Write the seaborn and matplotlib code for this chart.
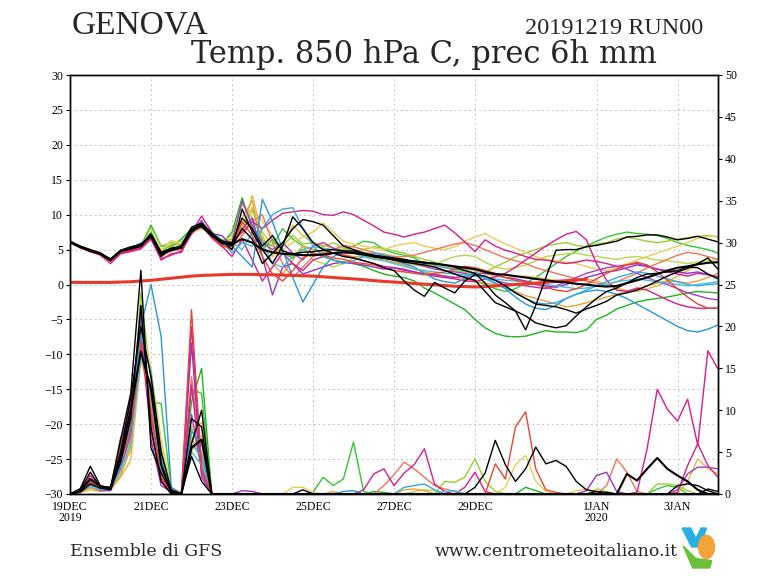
import matplotlib
matplotlib.use("Agg")
import matplotlib.pyplot as plt
from matplotlib.patches import Ellipse, Polygon
import seaborn as sns

# forecast hours, 6h steps from 19DEC2019 00Z to 04JAN2020 00Z
HOURS = list(range(0, 385, 6))

TICK_HOURS = [0, 48, 96, 144, 192, 240, 312, 360]
TICK_LABELS = ["19DEC\n2019", "21DEC", "23DEC", "25DEC", "27DEC", "29DEC", "1JAN\n2020", "3JAN"]

# 850 hPa temperature (C), one list per ensemble member
T_BLACK_A = [6.2, 5.5, 5.0, 4.5, 3.6, 4.9, 5.4, 5.7, 7.1, 4.6, 5.2, 5.4, 7.9, 8.7, 7.0, 6.2,
             6.0, 9.5, 8.0, 5.5, 7.0, 4.8, 4.4, 4.6, 4.7, 4.9, 5.0, 4.8, 4.8, 4.5, 4.2, 4.0,
             3.8, 3.6, 3.3, 3.2, 3.0, 2.8, 2.5, 2.0, 1.6, 0.2, -1.5, -2.6, -3.8, -6.5, -3.0, 1.0,
             4.9, 5.0, 5.0, 5.4, 5.6, 5.9, 6.2, 6.8, 6.9, 7.1, 7.1, 6.8, 6.4, 6.6, 6.9, 6.5, 6.1]
T_BLACK_B = [6.1, 5.3, 4.9, 4.3, 3.4, 4.8, 5.3, 5.8, 6.8, 4.2, 5.0, 5.6, 8.2, 8.8, 7.4, 6.1,
             5.5, 8.0, 6.5, 3.0, 4.5, 6.0, 8.0, 9.3, 9.0, 8.5, 7.0, 5.5, 5.0, 4.5, 4.0, 3.8,
             3.5, 3.2, 3.0, 2.8, 2.5, 2.0, 1.5, 1.0, 0.6, -1.0, -2.6, -3.2, -3.8, -4.5, -5.5, -5.9,
             -6.2, -5.9, -4.5, -3.2, -2.0, -1.0, -0.5, 0.2, 1.0, 1.5, 1.6, 1.8, 2.0, 2.5, 2.4, 1.5, 0.8]
T_BLACK_C = [6.1, 5.4, 4.8, 4.4, 3.6, 4.8, 5.1, 5.5, 7.2, 4.5, 4.9, 5.3, 7.6, 8.5, 7.1, 5.9,
             5.8, 6.5, 6.0, 5.0, 4.6, 4.4, 4.3, 4.2, 4.2, 4.3, 4.5, 4.6, 4.5, 4.3, 4.0, 3.8,
             3.6, 3.4, 3.3, 3.1, 3.0, 2.8, 2.6, 2.4, 2.2, 1.8, 1.5, 1.4, 1.2, 1.0, 0.8, 0.6,
             0.4, 0.3, 0.1, 0.0, -0.2, -0.3, -0.2, 0.2, 0.6, 1.0, 1.5, 2.0, 2.4, 2.6, 2.9, 3.1, 3.2]
T_BLACK_D = [6.0, 5.4, 4.9, 4.5, 3.5, 4.7, 5.3, 5.7, 6.9, 4.0, 5.2, 5.2, 8.0, 8.3, 6.9, 6.3,
             5.0, 10.8, 7.5, 5.0, 3.0, 5.5, 9.7, 8.0, 6.0, 5.0, 4.5, 4.0, 3.8, 3.4, 3.0, 2.4,
             2.0, 0.5, -0.8, -1.7, 0.3, -0.5, -1.2, 0.5, 1.4, 1.2, 0.6, -0.2, -1.2, -2.0, -2.8, -3.0,
             -3.2, -3.6, -4.1, -3.5, -3.0, -2.4, -1.5, -1.2, -0.8, -0.2, 0.5, 1.2, 1.8, 2.3, 3.0, 3.8, 2.2]
T_GREEN_A = [6.0, 5.3, 4.8, 4.4, 3.4, 4.7, 5.2, 5.5, 8.5, 5.5, 5.4, 6.5, 8.0, 8.4, 7.0, 5.8,
             7.5, 12.4, 8.0, 5.0, 6.5, 4.5, 3.8, 5.0, 4.5, 4.0, 3.5, 3.2, 3.0, 2.6, 2.0, 1.5,
             1.2, 1.0, 0.5, -0.5, -1.2, -2.0, -2.8, -3.6, -5.0, -6.2, -7.0, -7.4, -7.5, -7.4, -7.0, -6.6,
             -6.8, -6.8, -6.9, -6.5, -5.0, -4.4, -3.5, -3.0, -2.5, -2.2, -2.0, -1.8, -1.5, -1.2, -1.0, -1.1, -1.2]
T_GREEN_B = [6.1, 5.5, 5.0, 4.3, 3.5, 4.9, 5.1, 5.6, 7.5, 4.8, 5.6, 5.9, 7.6, 8.2, 7.3, 5.7,
             6.0, 8.5, 11.0, 6.0, 5.5, 8.0, 6.5, 5.5, 5.0, 4.6, 4.5, 5.0, 5.5, 6.2, 6.0, 5.0,
             4.5, 4.2, 3.8, 3.0, 2.5, 2.0, 1.5, 1.0, 0.5, 0.0, -0.6, -1.0, -0.6, 0.2, 1.0, 2.0,
             3.0, 4.0, 4.8, 5.5, 6.2, 6.8, 7.2, 7.5, 7.3, 7.2, 7.0, 6.6, 6.0, 5.6, 5.3, 5.0, 4.5]
T_LIME_A = [6.2, 5.4, 4.9, 4.4, 3.7, 4.8, 5.2, 5.4, 8.2, 5.5, 6.0, 5.7, 7.4, 8.0, 7.5, 6.2,
            7.0, 11.5, 9.5, 6.5, 4.5, 5.5, 7.0, 5.8, 6.0, 5.4, 6.0, 5.2, 4.8, 5.0, 5.4, 5.2,
            4.8, 4.5, 4.0, 3.6, 3.2, 2.6, 2.0, 1.8, 1.5, 1.8, 2.5, 3.2, 4.0, 4.5, 5.0, 5.5,
            5.8, 6.0, 5.6, 5.4, 5.8, 6.0, 6.5, 6.8, 6.5, 6.2, 6.0, 6.2, 6.5, 6.7, 6.9, 7.0, 6.8]
T_LIME_B = [6.0, 5.3, 4.8, 4.4, 3.5, 4.6, 5.0, 5.5, 7.3, 4.9, 5.8, 6.2, 7.2, 8.4, 7.6, 6.4,
            6.5, 8.0, 10.5, 7.5, 5.5, 4.5, 4.0, 5.5, 3.5, 3.0, 2.5, 3.0, 3.8, 4.2, 4.0, 3.5,
            3.2, 3.0, 2.8, 2.6, 2.8, 3.5, 4.0, 4.2, 4.0, 3.2, 2.5, 2.2, 2.4, 2.8, 3.4, 4.0,
            4.2, 4.4, 4.5, 4.2, 4.0, 3.8, 3.6, 3.9, 4.0, 3.8, 3.5, 3.4, 3.2, 3.0, 3.2, 3.4, 3.6]
T_YELLOW = [6.1, 5.4, 5.0, 4.5, 3.6, 4.8, 5.1, 5.4, 7.1, 4.8, 6.3, 5.8, 7.5, 8.1, 7.1, 5.9,
            6.0, 8.5, 11.0, 9.0, 7.0, 5.0, 6.0, 6.8, 7.5, 8.8, 7.5, 6.2, 5.8, 5.5, 5.2, 5.0,
            5.5, 5.8, 6.0, 5.5, 5.2, 5.0, 5.4, 6.2, 6.8, 7.3, 6.5, 5.8, 5.2, 4.6, 4.0, 3.6,
            3.4, 3.2, 3.0, 2.6, 2.2, 2.0, 2.4, 3.0, 3.5, 4.0, 4.5, 5.0, 5.5, 6.0, 6.6, 6.9, 6.9]
T_GOLD = [6.0, 5.2, 4.7, 4.3, 3.4, 4.6, 5.0, 5.3, 6.7, 4.3, 5.4, 5.5, 7.7, 8.3, 6.8, 5.6,
          5.0, 7.0, 12.8, 7.0, 4.0, 5.5, 8.5, 7.0, 6.0, 5.6, 5.2, 5.0, 4.8, 4.6, 4.5, 4.4,
          4.0, 3.6, 3.2, 2.8, 2.6, 2.5, 2.4, 2.2, 2.0, 1.5, 1.2, 1.0, 1.1, 1.2, 1.0, 0.8,
          0.6, 0.4, 0.6, 0.8, 0.5, 0.0, -0.5, -0.9, -1.0, -0.6, -0.2, 0.4, 1.2, 2.0, 2.8, 3.2, 3.1]
T_ORANGE = [6.1, 5.4, 4.8, 4.4, 3.5, 4.7, 5.1, 5.5, 6.6, 4.0, 4.8, 5.1, 7.6, 8.7, 6.9, 5.8,
            6.5, 9.5, 12.0, 5.0, 3.0, 1.5, 3.5, 5.5, 5.0, 4.8, 4.5, 4.3, 4.0, 4.0, 3.8, 3.5,
            3.2, 2.8, 2.2, 1.8, 1.5, 1.2, 1.0, 0.8, 0.5, 0.2, 0.0, -0.5, -1.0, -1.6, -2.0, -2.4,
            -2.8, -3.2, -3.0, -2.6, -2.2, -1.8, -1.4, -1.0, -0.6, -0.2, 0.2, 0.5, 0.4, 0.2, 0.5, 1.0, 1.6]
T_SALMON = [6.0, 5.3, 4.8, 4.3, 3.3, 4.5, 4.9, 5.3, 6.9, 4.2, 4.9, 5.0, 7.4, 8.5, 6.6, 5.4,
            5.5, 7.0, 9.0, 10.0, 6.0, 3.0, 1.0, 2.5, 4.0, 4.5, 5.0, 5.6, 5.4, 5.0, 4.6, 4.2,
            4.0, 4.0, 4.2, 4.6, 5.0, 5.4, 5.8, 6.0, 5.6, 5.0, 4.4, 3.8, 3.4, 3.0, 2.4, 2.0,
            1.6, 1.2, 0.8, 0.5, 0.2, 0.0, 0.4, 1.0, 1.6, 2.4, 3.0, 3.6, 4.2, 4.6, 4.4, 4.0, 3.6]
T_MAGENTA_A = [6.1, 5.4, 4.9, 4.4, 3.4, 4.6, 4.8, 5.2, 6.6, 3.5, 4.4, 4.6, 7.5, 9.8, 7.5, 5.8,
               6.0, 7.5, 9.0, 8.0, 9.2, 10.2, 10.4, 10.6, 10.5, 10.0, 9.9, 10.4, 10.0, 9.2, 8.4, 7.5,
               7.2, 6.8, 7.2, 7.5, 8.0, 8.5, 7.4, 6.1, 4.7, 6.4, 5.5, 4.9, 4.5, 4.0, 3.6, 3.5,
               3.2, 3.0, 3.2, 3.5, 3.3, 3.0, 2.6, 2.8, 3.0, 2.6, 2.2, 1.8, 1.5, 1.2, 1.6, 1.4, 1.1]
T_MAGENTA_B = [6.0, 5.3, 4.7, 4.2, 3.0, 4.4, 4.7, 5.1, 6.5, 3.7, 4.2, 4.8, 7.2, 9.2, 6.8, 5.5,
               4.0, 6.5, 3.5, 0.5, 2.5, 4.5, 3.0, 2.0, 3.5, 4.0, 4.5, 4.2, 3.8, 3.4, 3.0, 2.6,
               2.4, 2.0, 1.8, 1.5, 1.2, 1.0, 0.8, 0.5, 0.4, 0.8, 1.1, 1.6, 2.5, 3.5, 4.5, 5.5,
               6.4, 7.2, 7.6, 6.4, 3.0, 0.6, -0.8, -1.0, -0.5, -0.8, -1.5, -2.2, -2.8, -3.2, -3.4, -3.4, -3.4]
T_PURPLE_A = [6.1, 5.4, 4.8, 4.4, 3.5, 4.8, 5.3, 5.7, 6.9, 4.6, 5.1, 5.5, 7.9, 8.6, 7.3, 7.0,
              5.5, 8.0, 9.5, 4.0, -1.5, 2.5, 3.0, 1.5, 2.0, 2.5, 3.0, 3.2, 3.0, 2.8, 2.5, 2.2,
              2.4, 2.2, 1.8, 1.5, 1.4, 1.2, 1.0, 1.2, 1.5, 1.6, 1.4, 1.0, 0.8, 0.5, 0.2, -0.2,
              -0.4, 0.0, 0.5, 1.0, 1.4, 1.8, 2.0, 2.4, 2.8, 2.6, 2.2, 2.0, 1.8, 1.6, 1.8, 1.4, 1.1]
T_PURPLE_B = [6.0, 5.4, 4.9, 4.4, 3.5, 4.7, 5.2, 5.6, 7.0, 4.3, 4.9, 5.4, 7.7, 8.2, 7.0, 6.2,
              6.0, 12.0, 8.5, 6.0, 5.0, 6.0, 4.5, 3.5, 5.5, 6.0, 5.2, 4.8, 4.6, 4.4, 4.2, 4.0,
              3.6, 3.3, 3.0, 2.6, 2.2, 2.0, 1.8, 1.6, 1.2, 1.0, 0.6, 0.2, 0.0, -0.2, -0.4, -0.6,
              -0.2, 0.4, 1.0, 1.6, 2.0, 2.4, 2.6, 2.2, 1.6, 1.0, 0.4, 0.0, -0.6, -1.2, -1.6, -2.0, -2.2]
T_BLUE_A = [6.2, 5.5, 4.9, 4.5, 3.6, 4.9, 5.3, 5.9, 7.0, 4.5, 5.0, 5.3, 7.8, 9.0, 7.2, 6.3,
            5.5, 4.0, 2.5, 12.2, 9.0, 5.0, 1.0, -2.5, 0.0, 2.5, 4.0, 4.6, 4.5, 4.2, 4.0, 3.8,
            3.5, 3.0, 2.5, 1.6, 0.8, 0.4, 0.2, 0.8, 1.8, 1.0, 0.2, -0.6, -1.8, -2.8, -3.4, -3.6,
            -3.0, -2.0, -1.4, -1.0, -0.8, -1.0, -1.4, -2.0, -2.8, -3.6, -4.4, -5.2, -6.0, -6.6, -6.8, -6.4, -5.8]
T_BLUE_B = [6.1, 5.4, 4.9, 4.4, 3.5, 4.8, 5.2, 5.6, 6.9, 4.4, 5.1, 5.4, 7.9, 8.6, 7.4, 6.4,
            4.5, 6.0, 5.5, 8.0, 10.0, 10.8, 11.0, 8.0, 5.5, 4.0, 3.5, 3.0, 3.4, 4.0, 4.5, 4.2,
            3.8, 3.5, 3.4, 3.2, 2.8, 2.4, 2.2, 2.0, 1.6, 0.8, 0.2, -0.4, -1.2, -2.0, -2.6, -2.8,
            -2.6, -2.0, -1.4, -0.8, -0.2, 0.4, 1.0, 1.4, 1.8, 1.6, 1.2, 0.8, 0.4, 0.0, -0.2, 0.0, 0.1]
T_CYAN = [6.1, 5.4, 4.9, 4.4, 3.6, 4.9, 5.3, 5.6, 7.1, 4.5, 5.1, 5.5, 8.0, 8.8, 7.3, 6.0,
          6.0, 5.0, 7.5, 6.0, 3.0, 2.5, 4.0, 5.0, 5.4, 5.2, 5.0, 4.8, 4.5, 4.0, 3.6, 3.4,
          3.0, 2.6, 2.2, 2.0, 1.8, 1.6, 1.5, 1.4, 1.2, 1.0, 0.8, 0.6, 0.5, 0.3, 0.2, 0.0,
          -0.2, -0.4, -0.6, -0.5, -0.2, 0.0, 0.4, 0.6, 0.8, 0.6, 0.4, 0.2, 0.0, -0.2, 0.0, 0.2, 0.4]
T_RED = [6.0, 5.3, 4.8, 4.3, 3.4, 4.7, 5.1, 5.5, 6.8, 4.3, 5.0, 5.3, 7.6, 8.4, 7.0, 5.7,
         5.0, 9.0, 7.0, 4.0, 1.5, 0.5, 2.0, 3.8, 4.5, 4.2, 3.8, 3.6, 3.2, 3.0, 2.8, 2.4,
         2.0, 1.8, 1.6, 1.4, 1.6, 1.8, 2.2, 2.6, 2.4, 2.0, 1.6, 1.0, 0.6, 0.4, 0.0, -0.4,
         -0.8, -1.0, -0.6, 0.0, 0.8, 1.6, 2.2, 2.8, 3.2, 2.8, 1.8, 0.6, -0.6, -1.8, -2.8, -3.4, -3.4]

# thick red reference curve, stops around 1 JAN
T_REF = [0.3, 0.3, 0.3, 0.3, 0.3, 0.35, 0.4, 0.5, 0.6, 0.75, 0.9, 1.05, 1.2, 1.3, 1.35, 1.4,
         1.45, 1.45, 1.45, 1.4, 1.4, 1.35, 1.3, 1.25, 1.2, 1.1, 1.0, 0.9, 0.8, 0.7, 0.55, 0.45,
         0.35, 0.25, 0.15, 0.05, -0.05, -0.15, -0.25, -0.3, -0.35, -0.3, -0.2, -0.1, 0.0, 0.1,
         0.2, 0.3, 0.45, 0.55, 0.65, 0.75]

# 6h precipitation (mm), right axis
P_BLACK_A = [0, 0.6, 3.3, 1.0, 0.7, 6.5, 12.0, 26.7, 5.5, 2.5, 0.3, 0, 6.0, 10.0, 0, 0,
             0, 0, 0, 0, 0, 0, 0, 0.5, 0, 0, 0, 0, 0, 0, 0, 0,
             0, 0, 0, 0, 0, 0, 0, 0, 0.8, 2.5, 6.4, 3.5, 1.5, 3.0, 5.6, 3.6,
             4.0, 3.3, 1.5, 0.5, 0.3, 0, 0, 0, 0, 0, 0, 0, 0, 0, 0, 0, 0]
P_BLACK_B = [0, 0.4, 2.6, 0.8, 0.8, 5.0, 11.5, 20.0, 14.0, 5.0, 0.5, 0, 9.0, 8.0, 0, 0,
             0, 0, 0, 0, 0, 0, 0, 0, 0, 0, 0, 0, 0, 0, 0, 0,
             0, 0, 0, 0, 0, 0, 0, 0, 0, 0, 0, 0, 0, 0, 0, 0,
             0, 0, 0, 0, 0.3, 0.2, 0, 0, 0, 0, 0, 0, 0, 0, 0, 0.6, 0.3]
P_BLACK_C = [0, 0.3, 1.8, 0.9, 0.6, 4.5, 10.0, 17.0, 12.5, 3.5, 0.2, 0, 5.5, 6.5, 0, 0,
             0, 0, 0, 0, 0, 0, 0, 0, 0, 0, 0, 0, 0, 0, 0, 0,
             0, 0, 0, 0, 0, 0, 0, 0, 0, 0, 0, 0, 0, 0, 0, 0,
             0, 0, 0, 0, 0, 0, 0, 2.4, 1.6, 3.0, 4.3, 3.0, 2.2, 1.5, 0.5, 0, 0]
P_BLACK_D = [0, 0.2, 1.2, 0.7, 0.5, 3.8, 9.0, 22.5, 8.0, 1.5, 0, 0, 4.5, 1.5, 0, 0,
             0, 0, 0, 0, 0, 0, 0, 0, 0, 0, 0, 0, 0, 0, 0, 0,
             0, 0, 0, 0, 0, 0, 0, 0, 0, 0, 0, 0, 0, 0, 0, 0,
             0, 0, 0, 0, 0, 0, 0, 0, 0, 0, 0, 0, 1.0, 1.2, 1.0, 0.4, 0]
P_GREEN_A = [0, 0.5, 1.5, 0.6, 0.5, 6.7, 8.5, 22.5, 9.5, 4.0, 0.4, 0, 11.0, 15.0, 0, 0,
             0, 0, 0, 0, 0, 0, 0, 0, 0, 0, 0, 0, 0, 0, 0.3, 0.2,
             0, 0, 0, 0, 0, 0, 0, 0, 0, 0, 0, 0, 0, 0.8, 0.4, 0,
             0, 0, 0, 0, 0, 0, 0, 0, 0, 0, 0, 0, 0, 0, 0, 0, 0]
P_GREEN_B = [0, 0.6, 1.4, 0.8, 0.9, 5.5, 9.5, 19.0, 11.0, 10.8, 0.6, 0.2, 12.5, 12.0, 0, 0,
             0, 0, 0, 0, 0, 0, 0, 0, 0.2, 2.0, 1.0, 1.8, 6.2, 0.3, 0, 0,
             0, 0, 0, 0, 0, 0, 0, 0, 0, 0, 0, 0, 0, 0, 0, 0,
             0, 0, 0, 0, 0, 0, 0, 0, 0, 0, 0.6, 1.0, 0.8, 0, 0, 0, 0]
P_LIME_A = [0, 0.4, 1.0, 0.5, 0.7, 3.0, 7.5, 24.0, 13.5, 5.5, 0.3, 0, 8.0, 4.0, 0, 0,
            0, 0, 0, 0, 0, 0, 0, 0, 0, 0, 0, 0, 0, 0, 0, 0,
            0, 0, 0, 0, 0, 1.5, 1.4, 2.0, 4.2, 1.5, 0.3, 0, 0, 0, 0, 0,
            0, 0, 0, 0, 0, 0, 0, 0, 0, 0, 1.2, 1.2, 1.0, 0.4, 0, 0, 0]
P_LIME_B = [0, 0.3, 0.8, 0.6, 0.4, 2.5, 6.5, 18.0, 10.0, 3.0, 0.5, 0, 7.0, 3.5, 0, 0,
            0, 0, 0, 0, 0, 0, 0, 0, 0, 0, 0, 0, 0, 0, 0, 0,
            0, 0, 0.3, 0.5, 0.4, 0, 0, 0, 0, 0, 0, 0, 0, 0, 0, 0,
            0, 0, 0, 0, 0.6, 0.3, 0, 0, 0, 0, 0, 0, 0, 0, 0, 0, 0]
P_YELLOW = [0, 0.4, 0.9, 0.5, 0.6, 3.5, 5.0, 20.5, 15.0, 6.5, 0.8, 0.2, 5.0, 7.0, 0, 0,
            0, 0, 0, 0, 0, 0, 0.8, 0.8, 0.2, 0, 0, 0, 0, 0, 0, 0,
            0, 0, 0, 0, 0, 0, 0, 0, 0, 0, 0, 0.8, 3.5, 4.6, 1.5, 0.3,
            0, 0, 0.4, 0.6, 0, 0, 0, 0, 0, 0, 0, 0, 0, 0, 0, 0, 0]
P_GOLD = [0, 0.2, 0.5, 0.3, 0.5, 2.0, 4.0, 16.0, 11.5, 2.0, 0.3, 0, 8.0, 8.5, 0, 0,
          0, 0, 0, 0, 0, 0, 0, 0, 0, 0, 0, 0, 0, 0, 0, 0,
          0, 0, 0, 0, 0, 0, 0, 0, 0, 0, 0, 0, 0, 0, 0, 0,
          0, 0, 0, 0, 0, 0, 0, 0, 0, 0, 0, 0, 0, 1.5, 4.2, 3.0, 2.4]
P_ORANGE = [0, 0.3, 0.7, 0.4, 0.5, 2.2, 5.5, 17.5, 12.0, 3.0, 0.2, 0, 6.5, 5.0, 0, 0,
            0, 0, 0, 0, 0, 0, 0, 0, 0, 0, 0.3, 0, 0, 0, 0, 0,
            0, 0.5, 0.6, 0.4, 0, 0, 0, 0, 0, 0, 0, 0, 0, 0, 0, 0,
            0, 0, 0, 0, 0, 0, 0, 0, 0, 0, 0, 0, 0, 0, 0, 0, 0]
P_SALMON = [0, 0.4, 1.2, 0.6, 0.8, 4.0, 8.0, 19.5, 10.5, 2.5, 0.4, 0, 14.0, 4.0, 0, 0,
            0, 0, 0, 0, 0, 0, 0, 0, 0, 0, 0, 0, 0, 0, 0, 1.0,
            2.3, 3.8, 3.0, 2.0, 1.0, 0.6, 0.3, 0, 0, 0, 0, 0, 0, 0, 0, 0,
            0, 0, 0, 0, 0, 1.0, 4.2, 2.6, 0.3, 0, 0, 0, 0, 0, 0, 0, 0]
P_MAGENTA_A = [0, 0.5, 1.8, 0.9, 0.7, 5.0, 10.5, 21.0, 9.0, 3.0, 0.2, 0, 20.0, 3.0, 0, 0,
               0, 0, 0, 0, 0, 0, 0, 0, 0, 0, 0, 0, 0, 0.5, 2.4, 3.0,
               1.0, 2.5, 3.5, 5.4, 1.2, 0.3, 0, 0, 0, 0, 0, 0, 0, 0, 0, 0,
               0, 0, 0, 0, 0, 0, 0, 0, 0, 0, 0, 0, 0.2, 3.4, 6.0, 3.4, 2.0]
P_MAGENTA_B = [0, 0.3, 2.2, 1.0, 0.6, 6.0, 11.0, 18.5, 7.5, 1.8, 0, 0, 13.0, 2.5, 0, 0,
               0, 0, 0, 0, 0, 0, 0, 0, 0, 0, 0, 0, 0, 0, 0, 0,
               0, 0, 0, 0, 0, 0, 0, 0.8, 2.6, 0.3, 0, 0, 0, 0, 0, 0,
               0, 0, 0, 0, 0, 0, 0, 0, 0.2, 5.4, 12.5, 10.1, 8.7, 11.3, 5.8, 17.1, 14.9]
P_PURPLE_A = [0, 0.6, 1.6, 0.7, 0.9, 4.2, 9.0, 21.5, 6.5, 1.0, 0.3, 0, 18.0, 2.0, 0, 0,
              0, 0.4, 0.3, 0, 0, 0, 0, 0, 0, 0, 0, 0, 0, 0, 0, 0,
              0, 0, 0, 0, 0, 0, 0, 0, 0, 0, 0, 0, 0, 0, 0, 0,
              0, 0, 0, 0.4, 2.2, 2.6, 0.3, 0, 0, 0, 0, 0, 0, 0, 0, 0, 0]
P_PURPLE_B = [0, 0.2, 1.0, 0.4, 0.4, 3.2, 7.0, 16.5, 13.0, 4.5, 0.4, 0, 9.5, 3.0, 0, 0,
              0, 0, 0, 0, 0, 0, 0, 0, 0, 0, 0, 0, 0, 0, 0, 0,
              0, 0, 0, 0, 0, 0, 0, 0, 0, 0, 0, 0, 0, 0, 0, 0,
              0, 0, 0, 0, 0, 0, 0, 0, 0, 0, 0, 0, 0.5, 2.4, 3.2, 3.2, 3.0]
P_BLUE_A = [0, 0.4, 1.3, 0.6, 0.5, 4.8, 8.0, 20.0, 25.0, 18.8, 0.8, 0, 7.5, 6.0, 0, 0,
            0, 0, 0, 0, 0, 0, 0, 0, 0, 0, 0, 0.3, 0.4, 0, 0, 0,
            0, 0, 0, 0, 0, 0, 0, 0, 0, 0, 0, 0, 0, 0, 0, 0,
            0, 0, 0, 0, 0, 0, 0, 0, 0, 0, 0, 0, 0, 0, 0, 0, 0]
P_BLUE_B = [0, 0.5, 1.1, 0.8, 0.7, 3.5, 8.8, 19.0, 14.5, 4.5, 0.3, 0, 6.0, 4.5, 0, 0,
            0, 0, 0, 0, 0, 0, 0, 0, 0, 0, 0, 0, 0, 0, 0, 0,
            0, 0.8, 1.0, 1.2, 0.5, 0, 0, 0, 0, 0, 0, 0, 0, 0, 0, 0,
            0, 0, 0, 0, 0, 0, 0, 0, 0, 0, 0, 0, 0, 0, 0, 0, 0]
P_CYAN = [0, 0.3, 0.9, 0.5, 0.6, 2.8, 6.0, 16.5, 12.0, 2.5, 0.2, 0, 5.0, 3.5, 0, 0,
          0, 0, 0, 0, 0, 0, 0, 0, 0, 0, 0, 0, 0, 0, 0, 0,
          0, 0, 0, 0, 0, 0.3, 0.4, 0, 0, 0, 0, 0, 0, 0, 0, 0,
          0, 0, 0, 0, 0, 0, 0, 0, 0, 0, 0, 0, 0, 0, 0, 0, 0]
P_RED = [0, 0.4, 1.4, 0.7, 0.6, 4.0, 7.5, 18.0, 9.5, 2.0, 0.2, 0, 22.0, 3.0, 0, 0,
         0, 0, 0, 0, 0, 0, 0, 0, 0, 0, 0, 0, 0, 0, 0, 0,
         0, 0, 0, 0, 0, 0, 0, 0, 0, 0, 3.6, 1.8, 8.0, 9.8, 3.0, 0.5,
         0.2, 0, 0, 0, 0, 0, 0, 0, 0, 0, 0, 0, 0, 0, 0, 0, 0]

# (temperature, precipitation, colour)
COLOURED = [
    (T_GREEN_A, P_GREEN_A, "#1fb41f"),
    (T_GREEN_B, P_GREEN_B, "#33c733"),
    (T_LIME_A, P_LIME_A, "#9acd32"),
    (T_LIME_B, P_LIME_B, "#b5d84a"),
    (T_YELLOW, P_YELLOW, "#e8cc55"),
    (T_GOLD, P_GOLD, "#e6b845"),
    (T_ORANGE, P_ORANGE, "#f0a032"),
    (T_SALMON, P_SALMON, "#f0745a"),
    (T_MAGENTA_A, P_MAGENTA_A, "#d4208a"),
    (T_MAGENTA_B, P_MAGENTA_B, "#e01a8c"),
    (T_PURPLE_A, P_PURPLE_A, "#9a30c8"),
    (T_PURPLE_B, P_PURPLE_B, "#a83cc0"),
    (T_BLUE_A, P_BLUE_A, "#2a96d8"),
    (T_BLUE_B, P_BLUE_B, "#32a8e2"),
    (T_CYAN, P_CYAN, "#45bde0"),
    (T_RED, P_RED, "#e8462e"),
]
BLACKS = [
    (T_BLACK_A, P_BLACK_A, 1.0),
    (T_BLACK_B, P_BLACK_B, 1.0),
    (T_BLACK_C, P_BLACK_C, 1.5),
    (T_BLACK_D, P_BLACK_D, 1.0),
]

sns.set_style("white")
serif = "Liberation Serif"

fig = plt.figure(figsize=(7.68, 5.76), dpi=100)
ax = fig.add_axes([70 / 768, 1 - 494 / 576, 648 / 768, 419 / 576])
ax2 = ax.twinx()

for temps, precs, col in COLOURED:
    sns.lineplot(x=HOURS[:len(temps)], y=temps, ax=ax, color=col, lw=1.0, estimator=None)
    sns.lineplot(x=HOURS[:len(precs)], y=precs, ax=ax2, color=col, lw=1.0, estimator=None)

sns.lineplot(x=HOURS[:len(T_REF)], y=T_REF, ax=ax, color="#e8382c", lw=2.2, estimator=None)

for temps, precs, w in BLACKS:
    sns.lineplot(x=HOURS[:len(temps)], y=temps, ax=ax, color="black", lw=w, estimator=None)
    sns.lineplot(x=HOURS[:len(precs)], y=precs, ax=ax2, color="black", lw=w, estimator=None)

ax.set_xlim(0, 384)
ax.set_ylim(-30, 30)
ax2.set_ylim(0, 50)
ax.set_yticks(range(-30, 31, 5))
ax2.set_yticks(range(0, 51, 5))
ax.set_xticks(TICK_HOURS)
ax.set_xticklabels(TICK_LABELS, fontfamily=serif, fontsize=8.5, linespacing=0.9)
for lab in ax.get_yticklabels():
    lab.set_fontfamily(serif)
    lab.set_fontsize(8.5)
for lab in ax2.get_yticklabels():
    lab.set_fontfamily(serif)
    lab.set_fontsize(8.5)

ax.grid(True, color="#c4c4c4", linestyle=(0, (2, 3)), lw=0.7)
ax.set_axisbelow(True)
ax2.grid(False)
ax.set_xlabel("")
ax.set_ylabel("")
ax2.set_ylabel("")
for a in (ax, ax2):
    a.tick_params(direction="out", length=3, width=0.8, colors="black", pad=2)
    for sp in a.spines.values():
        sp.set_color("black")
        sp.set_linewidth(1.0)

# header
fig.text(72 / 768, 1 - 25 / 576, "GENOVA", fontfamily=serif, fontsize=24,
         ha="left", va="center")
fig.text(703 / 768, 1 - 28 / 576, "20191219 RUN00", fontfamily=serif, fontsize=17.5,
         ha="right", va="center")
fig.text(424 / 768, 1 - 55 / 576, "Temp. 850 hPa C, prec 6h mm", fontfamily="DejaVu Serif",
         fontsize=22, ha="center", va="center")

# footer
fig.text(70 / 768, 1 - 551 / 576, "Ensemble di GFS", fontfamily="DejaVu Serif", fontsize=12.5,
         ha="left", va="center")
fig.text(678 / 768, 1 - 551 / 576, "www.centrometeoitaliano.it", fontfamily="DejaVu Serif",
         fontsize=12.5, ha="right", va="center")

# small logo
logo = fig.add_axes([681 / 768, 1 - 569 / 576, 34 / 768, 42 / 576])
logo.set_xlim(0, 32)
logo.set_ylim(0, 40)
logo.axis("off")
logo.add_patch(Polygon([[1, 39], [9, 39], [14, 29], [19, 39], [24, 39], [18, 21], [10, 21]],
                       closed=True, color="#29aee6"))
logo.add_patch(Ellipse((24, 21), 15, 22, color="#f5a23a"))
logo.add_patch(Polygon([[2, 22], [11, 1], [27, 1], [29, 8], [14, 10]],
                       closed=True, color="#6cbf3a"))

fig.savefig("out.png", dpi=100, facecolor="white")
